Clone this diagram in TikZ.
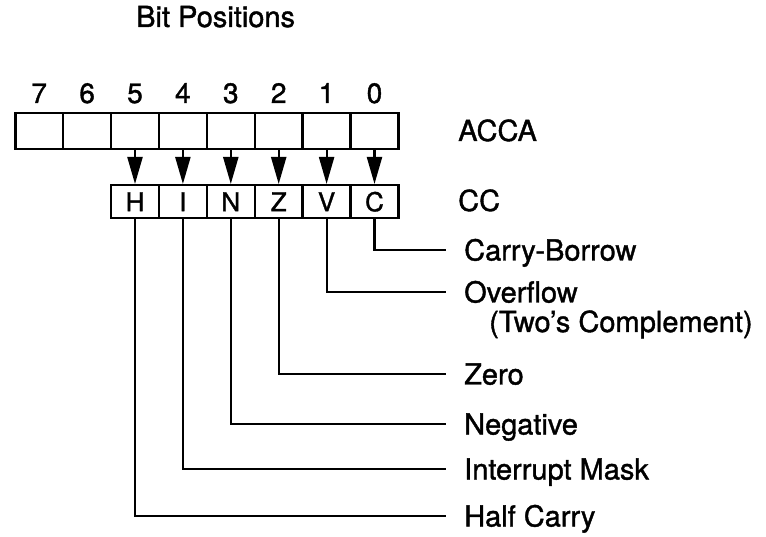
\documentclass[tikz,border=0pt]{standalone}
\usepackage{fontspec}
\setmainfont{TeX Gyre Heros}[FakeBold=1.3]
\usetikzlibrary{arrows.meta,calc}
\begin{document}
\begin{tikzpicture}[x=1pt,y=-1pt,
  cell/.style={draw,line width=2.5pt,minimum width=47.9pt,minimum height=36pt,inner sep=0pt,anchor=north west},
  ccell/.style={draw,line width=2.5pt,minimum width=47.9pt,minimum height=33pt,inner sep=0pt,anchor=north west,font=\fontsize{26}{26}\selectfont},
  digit/.style={anchor=base,font=\fontsize{28}{28}\selectfont,inner sep=0pt},
  txt/.style={font=\fontsize{29}{29}\selectfont,inner sep=0pt,anchor=base west},
  lbl/.style={anchor=west,font=\fontsize{29}{29}\selectfont,inner xsep=18pt,inner ysep=0pt,text height=21pt,text depth=0pt},
  arr/.style={line width=2.2pt,-{Triangle[length=27pt,width=15pt]}},
  conn/.style={line width=2.2pt}
]
\useasboundingbox (0,0) rectangle (766,537);
\node[txt] (title) at (136,27) {Bit Positions};
\foreach \b [count=\i from 0] in {7,6,5,4,3,2,1,0} {
  \node[cell] (a\b) at ({14+47.9*\i},112) {};
  \node[digit] (d\b) at ($(a\b.north)+(0,-9)$) {\b};
}
\foreach \n/\t [count=\i from 2] in {h/H,i/I,n/N,z/Z,v/V,c/C} {
  \node[ccell] (\n) at ({14+47.9*\i},184) {\t};
}
\foreach \b/\n in {5/h,4/i,3/n,2/z,1/v,0/c} {
  \draw[arr] (a\b.south) -- (\n.north);
}
\node[txt] (acca) at (458,141) {ACCA};
\node[txt] (cc) at (458,211) {CC};
\node[lbl] (lc) at (446,250) {Carry-Borrow};
\node[lbl] (lv) at (446,292) {Overflow};
\node[txt] (lv2) at (489,332) {(Two’s Complement)};
\node[lbl] (lz) at (446,374) {Zero};
\node[lbl] (ln) at (446,424) {Negative};
\node[lbl] (li) at (446,469) {Interrupt Mask};
\node[lbl] (lh) at (446,516) {Half Carry};
\foreach \n/\l in {c/lc,v/lv,z/lz,n/ln,i/li,h/lh} {
  \draw[conn] (\n.south) |- (\l.west);
}
\end{tikzpicture}
\end{document}
